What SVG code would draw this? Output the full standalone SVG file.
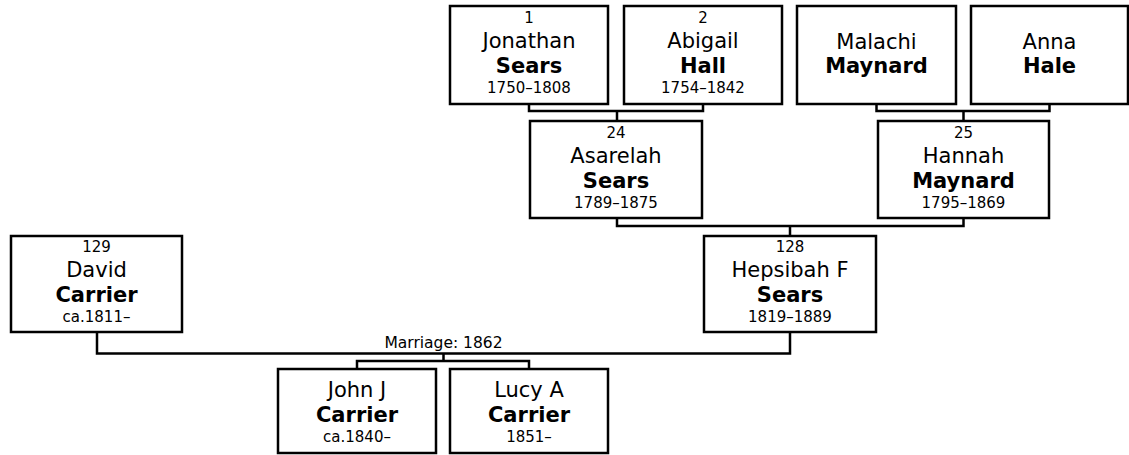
<svg xmlns="http://www.w3.org/2000/svg" width="1129" height="455" viewBox="0 0 1129 455">
<style>
.box{fill:#fff;stroke:#000;stroke-width:2.5}
.ln{fill:none;stroke:#000;stroke-width:2.5}
text{font-family:"DejaVu Sans",Verdana,sans-serif;fill:#000;text-anchor:middle}
.num{font-size:15px}
.nm{font-size:21px}
.sn{font-size:21px;font-weight:bold}
.yr{font-size:15px}
.lbl{font-size:15.5px}
</style>
<rect width="1129" height="455" fill="#fff"/>
<g id="connectors">
<path class="ln" d="M529,105 V111 H703 V105 M617,111 V120"/>
<path class="ln" d="M876.5,105 V111 H1049.5 V105 M963.5,111 V120"/>
<path class="ln" d="M617,219 V226 H963.5 V219 M790,226 V235"/>
<path class="ln" d="M97,333 V353.5 H790 V333"/>
<path class="ln" d="M443.5,353.5 V361 M357,368 V361 H529 V368"/>
<text class="lbl" x="443.5" y="348">Marriage: 1862</text>
</g>
<g id="p1">
<rect class="box" x="450" y="6" width="158" height="98"/>
<text class="num" x="529" y="23">1</text>
<text class="nm" x="529" y="48">Jonathan</text>
<text class="sn" x="529" y="73">Sears</text>
<text class="yr" x="529" y="93">1750–1808</text>
</g>
<g id="p2">
<rect class="box" x="624" y="6" width="158" height="98"/>
<text class="num" x="703" y="23">2</text>
<text class="nm" x="703" y="48">Abigail</text>
<text class="sn" x="703" y="73">Hall</text>
<text class="yr" x="703" y="93">1754–1842</text>
</g>
<g id="malachi">
<rect class="box" x="797" y="6" width="159" height="98"/>
<text class="nm" x="876.5" y="49">Malachi</text>
<text class="sn" x="876.5" y="73">Maynard</text>
</g>
<g id="anna">
<rect class="box" x="971" y="6" width="157" height="98"/>
<text class="nm" x="1049.5" y="49">Anna</text>
<text class="sn" x="1049.5" y="73">Hale</text>
</g>
<g id="p24">
<rect class="box" x="530" y="121" width="172" height="97"/>
<text class="num" x="616" y="138">24</text>
<text class="nm" x="616" y="163">Asarelah</text>
<text class="sn" x="616" y="188">Sears</text>
<text class="yr" x="616" y="208">1789–1875</text>
</g>
<g id="p25">
<rect class="box" x="878" y="121" width="171" height="97"/>
<text class="num" x="963.5" y="138">25</text>
<text class="nm" x="963.5" y="163">Hannah</text>
<text class="sn" x="963.5" y="188">Maynard</text>
<text class="yr" x="963.5" y="208">1795–1869</text>
</g>
<g id="p129">
<rect class="box" x="11" y="236" width="171" height="96"/>
<text class="num" x="96.5" y="252">129</text>
<text class="nm" x="96.5" y="277">David</text>
<text class="sn" x="96.5" y="302">Carrier</text>
<text class="yr" x="96.5" y="322">ca.1811–</text>
</g>
<g id="p128">
<rect class="box" x="704" y="236" width="172" height="96"/>
<text class="num" x="790" y="252">128</text>
<text class="nm" x="790" y="277">Hepsibah F</text>
<text class="sn" x="790" y="302">Sears</text>
<text class="yr" x="790" y="322">1819–1889</text>
</g>
<g id="john">
<rect class="box" x="278" y="369" width="158" height="84"/>
<text class="nm" x="357" y="397">John J</text>
<text class="sn" x="357" y="422">Carrier</text>
<text class="yr" x="357" y="442">ca.1840–</text>
</g>
<g id="lucy">
<rect class="box" x="450" y="369" width="158" height="84"/>
<text class="nm" x="529" y="397">Lucy A</text>
<text class="sn" x="529" y="422">Carrier</text>
<text class="yr" x="529" y="442">1851–</text>
</g>
</svg>
